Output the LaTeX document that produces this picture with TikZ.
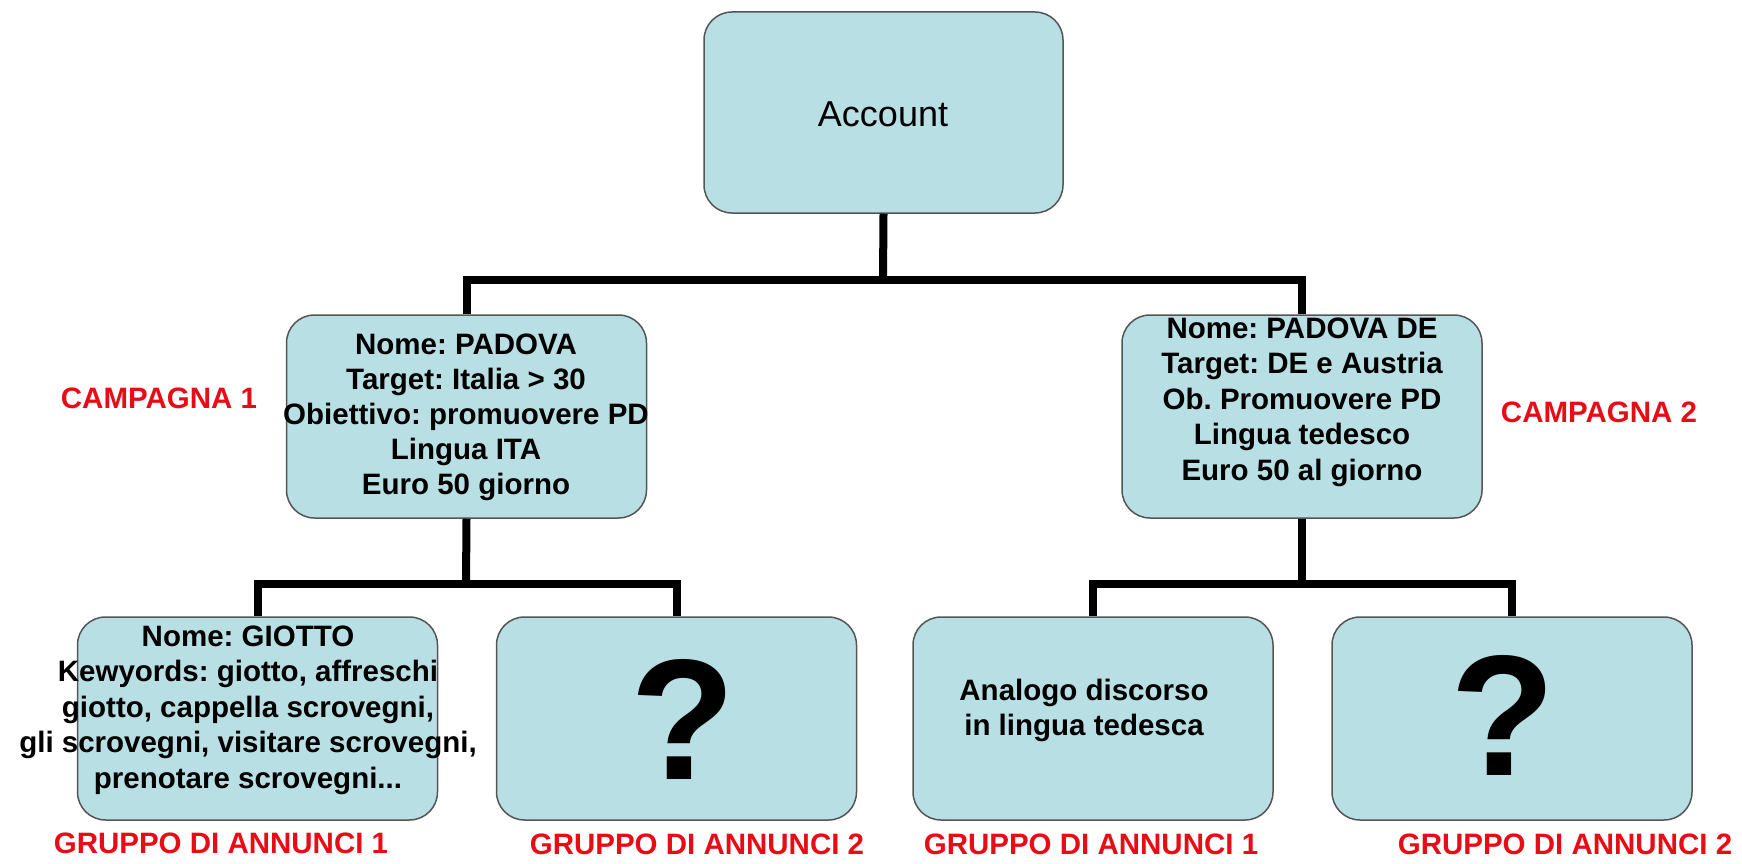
\documentclass[tikz,border=0pt]{standalone}
\usepackage{fontspec}
\setmainfont{Liberation Sans}
\definecolor{boxfill}{RGB}{184,223,228}
\definecolor{boxline}{RGB}{85,85,85}
\definecolor{lblred}{RGB}{232,12,22}
\frenchspacing
\begin{document}
\begin{tikzpicture}[x=1pt,y=-1pt,
  box/.style={draw=boxline, line width=1.5pt, fill=boxfill, rounded corners=28pt,
              minimum width=360pt, minimum height=203pt, inner sep=0pt},
  conn/.style={line width=8pt, draw=black},
  boxtext/.style={font=\fontsize{29.5}{35}\selectfont\bfseries, align=center, inner sep=0pt},
  qmark/.style={font=\fontsize{172}{180}\selectfont\bfseries, inner sep=0pt},
  lbl/.style={font=\fontsize{29.5}{34}\selectfont\bfseries, text=lblred, inner sep=0pt}]
\useasboundingbox (0,0) rectangle (1742,864);

\coordinate (bus1) at (883,280);
\coordinate (bus2) at (466,584);
\coordinate (bus3) at (1302,584);

% boxes
\node[box, minimum width=359pt, minimum height=201pt] (acc) at (883.5,112.5) {};
\node[box] (c1) at (466.5,416.5) {};
\node[box] (c2) at (1302,416.5) {};
\node[box] (b1) at (257.5,718.5) {};
\node[box] (b2) at (676.5,718.5) {};
\node[box] (b3) at (1093,718.5) {};
\node[box] (b4) at (1512,718.5) {};

% connectors
\draw[conn] (acc.south) -- (bus1);
\draw[conn] (c1.north) -- (c1.north |- bus1) -- (c2.north |- bus1) -- (c2.north);
\draw[conn] (c1.south) -- (bus2);
\draw[conn] (b1.north) -- (b1.north |- bus2) -- (b2.north |- bus2) -- (b2.north);
\draw[conn] (c2.south) -- (bus3);
\draw[conn] (b3.north) -- (b3.north |- bus3) -- (b4.north |- bus3) -- (b4.north);

% texts in boxes
\node[font=\fontsize{36}{42}\selectfont, inner sep=0pt] (acct) at (883,114.5) {Account};
\node[boxtext] (c1t) at (466,417) {Nome: PADOVA\\Target: Italia > 30\\Obiettivo: promuovere PD\\Lingua ITA\\Euro 50 giorno};
\node[boxtext, font=\fontsize{29.5}{35.5}\selectfont\bfseries] (c2t) at (1302,402) {Nome: PADOVA DE\\Target: DE e Austria\\Ob. Promuovere PD\\Lingua tedesco\\Euro 50 al giorno};
\node[boxtext, font=\fontsize{29.5}{35.5}\selectfont\bfseries] (b1t) at (248,710) {Nome: GIOTTO\\Kewyords: giotto, affreschi\\giotto, cappella scrovegni,\\gli scrovegni, visitare scrovegni,\\prenotare scrovegni...};
\node[qmark] (b2t) at (683,719) {?};
\node[boxtext] (b3t) at (1084,710) {Analogo discorso\\in lingua tedesca};
\node[qmark] (b4t) at (1503,715) {?};

% red labels
\node[lbl] (lc1) at (159,398) {CAMPAGNA 1};
\node[lbl] (lc2) at (1599,412) {CAMPAGNA 2};
\node[lbl] (lg1) at (221,843) {GRUPPO DI ANNUNCI 1};
\node[lbl] (lg2) at (697,844) {GRUPPO DI ANNUNCI 2};
\node[lbl] (lg3) at (1091,844) {GRUPPO DI ANNUNCI 1};
\node[lbl] (lg4) at (1565,844) {GRUPPO DI ANNUNCI 2};
\end{tikzpicture}
\end{document}
